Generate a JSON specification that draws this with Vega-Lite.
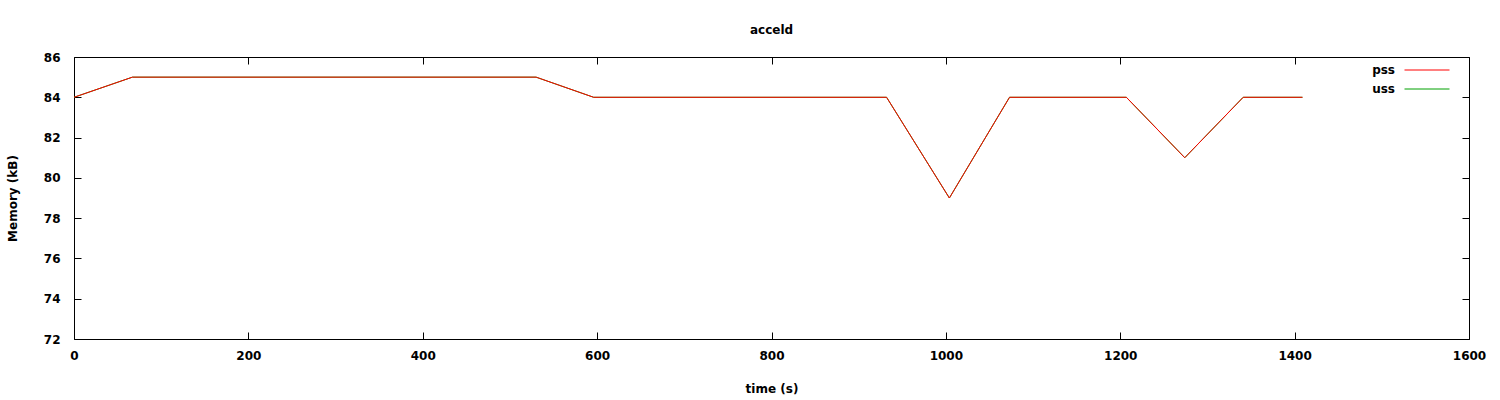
{
  "$schema": "https://vega.github.io/schema/vega-lite/v6.json",
  "width": 1395,
  "height": 282,
  "autosize": {"type": "none"},
  "padding": {"left": 74, "top": 57, "right": 31, "bottom": 61},
  "background": "white",
  "title": {"text": "acceld", "fontSize": 12, "font": "DejaVu Sans", "fontWeight": "bold", "color": "black", "offset": 14},
  "config": {
    "view": {"stroke": "black", "strokeWidth": 1},
    "axis": {"grid": false, "domain": false, "tickColor": "black", "tickSize": -7, "labelFont": "DejaVu Sans", "labelFontSize": 12, "labelFontWeight": "bold", "labelColor": "black", "titleFont": "DejaVu Sans", "titleFontSize": 12, "titleFontWeight": "bold", "titleColor": "black", "labelFlush": false, "labelOverlap": false}
  },
  "data": {"values": [
    {"t": 0, "v": 84, "s": "uss"}, {"t": 67, "v": 85, "s": "uss"}, {"t": 530, "v": 85, "s": "uss"}, {"t": 596, "v": 84, "s": "uss"}, {"t": 932, "v": 84, "s": "uss"}, {"t": 1004, "v": 79, "s": "uss"}, {"t": 1073, "v": 84, "s": "uss"}, {"t": 1207, "v": 84, "s": "uss"}, {"t": 1274, "v": 81, "s": "uss"}, {"t": 1341, "v": 84, "s": "uss"}, {"t": 1409, "v": 84, "s": "uss"},
    {"t": 0, "v": 84, "s": "pss"}, {"t": 67, "v": 85, "s": "pss"}, {"t": 530, "v": 85, "s": "pss"}, {"t": 596, "v": 84, "s": "pss"}, {"t": 932, "v": 84, "s": "pss"}, {"t": 1004, "v": 79, "s": "pss"}, {"t": 1073, "v": 84, "s": "pss"}, {"t": 1207, "v": 84, "s": "pss"}, {"t": 1274, "v": 81, "s": "pss"}, {"t": 1341, "v": 84, "s": "pss"}, {"t": 1409, "v": 84, "s": "pss"}
  ]},
  "layer": [
    {
      "mark": {"type": "line", "strokeWidth": 1, "interpolate": "linear"},
      "encoding": {
        "x": {"field": "t", "type": "quantitative", "scale": {"domain": [0, 1600], "nice": false, "zero": false}, "axis": {"title": "time (s)", "values": [0,200,400,600,800,1000,1200,1400,1600], "labelPadding": 18, "titlePadding": 22, "format": "d"}},
        "y": {"field": "v", "type": "quantitative", "scale": {"domain": [72, 86], "nice": false, "zero": false}, "axis": {"title": "Memory (kB)", "values": [72,74,76,78,80,82,84,86], "labelPadding": 21, "titlePadding": 24, "format": "d"}},
        "color": {"field": "s", "type": "nominal", "scale": {"domain": ["pss", "uss"], "range": ["#ff0000", "#00a000"]}, "legend": {"title": null, "orient": "none", "legendX": 1345, "legendY": 5, "symbolType": "M-3,0H3", "symbolSize": 225, "symbolStrokeWidth": 1, "labelAlign": "right", "labelOffset": -40, "labelFont": "DejaVu Sans", "labelFontSize": 12, "labelFontWeight": "bold", "labelColor": "black", "rowPadding": 5}}
      }
    },
    {
      "mark": {"type": "rule", "opacity": 0},
      "encoding": {
        "x": {"field": "t", "type": "quantitative", "axis": {"orient": "top", "title": null, "labels": false, "values": [0,200,400,600,800,1000,1200,1400,1600]}},
        "y": {"field": "v", "type": "quantitative", "axis": {"orient": "right", "title": null, "labels": false, "values": [72,74,76,78,80,82,84,86]}}
      }
    }
  ],
  "resolve": {"axis": {"x": "independent", "y": "independent"}}
}
